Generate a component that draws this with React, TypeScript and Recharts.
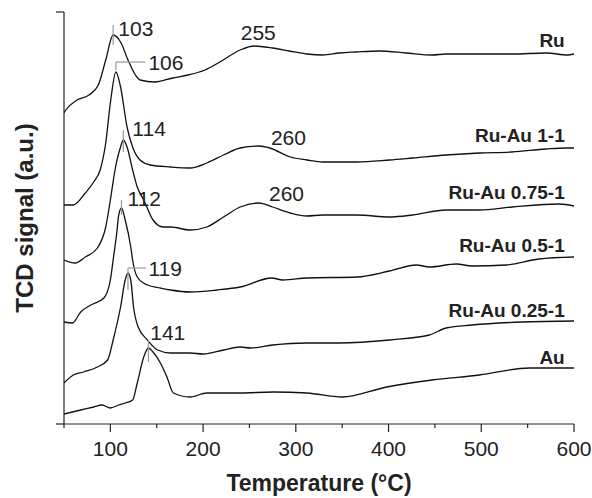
import { LineChart, Line, XAxis, YAxis, ReferenceLine, ReferenceDot } from 'recharts';

// [temperature °C, signal (offset, a.u.)]
const ru = [
  [50, 311], [52, 314], [64, 324], [77, 329], [87, 339], [95, 364], [103, 389], [111, 382],
  [119, 364], [127, 349], [132, 344], [148, 342], [167, 346], [184, 349], [202, 354], [218, 362],
  [240, 374], [255, 378], [275, 376], [293, 373], [312, 370], [329, 369], [347, 371], [365, 372],
  [390, 373], [419, 371], [447, 369], [462, 370], [498, 370], [533, 370], [570, 371], [593, 369], [600, 370],
];
const ruAu1 = [
  [50, 219], [60, 219], [73, 231], [82, 242], [89, 254], [95, 281], [100, 321], [106, 352],
  [111, 337], [118, 297], [124, 277], [132, 264], [143, 259], [165, 257], [186, 256], [204, 261],
  [222, 269], [240, 276], [260, 278], [272, 276], [294, 267], [312, 264], [329, 262], [366, 262],
  [401, 264], [426, 266], [462, 269], [498, 271], [533, 272], [570, 275], [591, 276], [600, 276],
];
const ruAu075 = [
  [50, 164], [62, 161], [73, 167], [86, 176], [95, 197], [100, 224], [105, 254], [111, 277],
  [114, 284], [118, 277], [124, 254], [129, 237], [136, 224], [146, 204], [157, 197], [165, 197],
  [186, 194], [204, 197], [222, 207], [240, 217], [260, 221], [275, 217], [294, 211], [312, 208],
  [329, 209], [366, 209], [401, 207], [426, 209], [462, 214], [498, 214], [533, 217], [584, 220], [600, 218],
];
const ruAu05 = [
  [50, 102], [59, 101], [68, 112], [79, 119], [93, 126], [100, 144], [103, 164], [107, 192],
  [109, 209], [112, 216], [116, 204], [122, 177], [124, 164], [129, 147], [140, 139], [154, 136],
  [165, 134], [186, 132], [215, 134], [240, 137], [274, 146], [286, 144], [312, 146], [366, 147],
  [401, 153], [430, 159], [444, 157], [473, 160], [490, 158], [527, 159], [562, 165], [600, 167],
];
const ruAu025 = [
  [50, 41], [60, 49], [71, 52], [86, 57], [97, 64], [103, 84], [111, 117], [116, 144], [119, 151],
  [122, 144], [125, 117], [130, 97], [140, 84], [151, 74], [165, 71], [186, 71], [200, 70],
  [222, 74], [240, 77], [251, 76], [275, 79], [312, 81], [347, 81], [401, 84], [444, 89],
  [462, 96], [490, 99], [544, 102], [600, 103],
];
const au = [
  [50, 10], [68, 14], [82, 17], [91, 19], [100, 16], [109, 19], [116, 21], [124, 24], [129, 41],
  [136, 67], [141, 76], [146, 72], [154, 61], [161, 47], [168, 31], [186, 27], [204, 31],
  [240, 31], [275, 32], [312, 31], [350, 27], [398, 37], [447, 44], [498, 49], [552, 56], [600, 56],
];

const seriesList = [ru, ruAu1, ruAu075, ruAu05, ruAu025, au];

// sample names: [text, temperature of right edge, signal]
const sampleNames: [string, number, number][] = [
  ['Ru', 590, 384], ['Ru-Au 1-1', 590, 289], ['Ru-Au 0.75-1', 590, 232],
  ['Ru-Au 0.5-1', 590, 179], ['Ru-Au 0.25-1', 590, 114], ['Au', 590, 67],
];

// peak labels: [text, temperature, signal]
const peakTexts: [string, number, number, string][] = [
  ['103', 108.6, 396, 'start'], ['106', 141, 362, 'start'], ['114', 123.7, 296, 'start'],
  ['112', 118.5, 226, 'start'], ['119', 141, 156, 'start'], ['141', 143, 92, 'start'],
  ['255', 259.5, 392, 'middle'], ['260', 292, 287, 'middle'], ['260', 290, 231, 'middle'],
];

// peak marker segments: [t1, v1, t2, v2]
const peakMarks = [
  [103, 399, 103, 379], [106, 362, 106, 354], [106, 362, 137.5, 362], [114, 294, 114, 272],
  [112, 224, 112, 209], [119, 156, 119, 134], [119, 156, 138.5, 156], [141, 84, 141, 62],
];

const xTicks = [50, 100, 150, 200, 250, 300, 350, 400, 450, 500, 550, 600];
const FONT = '"Liberation Sans", Arial, Helvetica, sans-serif';

const toPoints = (arr: number[][]) => arr.map(([t, v]) => ({ t, v }));

function TempTick({ x, y, payload }: any) {
  const major = payload.value % 100 === 0;
  return (
    <g>
      <line x1={x} y1={y} x2={x} y2={y + (major ? 8 : 4)} stroke="#222" strokeWidth={1.2} />
      {major && (
        <text x={x} y={y + 32} textAnchor="middle" fontSize={21} fontFamily={FONT} fill="#222">
          {payload.value}
        </text>
      )}
    </g>
  );
}

function EndTick({ x, y }: any) {
  return <line x1={x - 8} y1={y} x2={x} y2={y} stroke="#222" strokeWidth={1.2} />;
}

const textShape = (text: string, anchor: string, bold: boolean, size: number) => (p: any) => (
  <text
    x={p.cx}
    y={p.cy}
    textAnchor={anchor}
    dominantBaseline="central"
    fontSize={size}
    fontWeight={bold ? 700 : 400}
    fontFamily={FONT}
    fill="#222"
  >
    {text}
  </text>
);

export default function App() {
  return (
    <div style={{ position: 'absolute', left: 0, top: 0, width: 592, height: 498, background: '#fff' }}>
      <LineChart width={592} height={498} margin={{ top: 12, right: 18, bottom: 14, left: 54 }}>
        <XAxis
          xAxisId="b"
          dataKey="t"
          type="number"
          domain={[50, 600]}
          ticks={xTicks}
          allowDataOverflow
          height={60}
          tickSize={0}
          tickMargin={0}
          tickLine={false}
          axisLine={{ stroke: '#222', strokeWidth: 1.2 }}
          tick={<TempTick />}
          label={{
            content: ({ viewBox }: any) => (
              <text
                x={viewBox.x + viewBox.width / 2}
                y={viewBox.y + 67}
                textAnchor="middle"
                fontSize={23}
                fontWeight={700}
                fontFamily={FONT}
                fill="#222"
              >
                Temperature (°C)
              </text>
            ),
          }}
        />
        <XAxis xAxisId="t" orientation="top" type="number" domain={[50, 600]} height={0} tick={false} tickLine={false} axisLine={{ stroke: '#222', strokeWidth: 1.2 }} />
        <YAxis
          yAxisId="l"
          type="number"
          domain={[0, 412]}
          ticks={[0, 412]}
          width={10}
          tickSize={0}
          tickMargin={0}
          tickLine={false}
          tick={<EndTick />}
          axisLine={{ stroke: '#222', strokeWidth: 1.2 }}
        />
        <YAxis yAxisId="r" orientation="right" type="number" domain={[0, 412]} width={0} tick={false} tickLine={false} axisLine={{ stroke: '#222', strokeWidth: 1.2 }} />

        {seriesList.map((s, i) => (
          <Line
            key={i}
            xAxisId="b"
            yAxisId="l"
            data={toPoints(s)}
            dataKey="v"
            type="monotone"
            stroke="#111"
            strokeWidth={1.3}
            dot={false}
            isAnimationActive={false}
          />
        ))}

        {peakMarks.map(([t1, v1, t2, v2], i) => (
          <ReferenceLine
            key={'m' + i}
            xAxisId="b"
            yAxisId="l"
            segment={[{ x: t1, y: v1 }, { x: t2, y: v2 }]}
            stroke="#999"
            strokeWidth={1.2}
          />
        ))}
        {peakTexts.map(([text, t, v, anchor], i) => (
          <ReferenceDot key={'p' + i} xAxisId="b" yAxisId="l" x={t} y={v} r={0} shape={textShape(text, anchor, false, 21)} />
        ))}
        {sampleNames.map(([text, t, v], i) => (
          <ReferenceDot key={'n' + i} xAxisId="b" yAxisId="l" x={t} y={v} r={0} shape={textShape(text, 'end', true, 19)} />
        ))}
      </LineChart>
      <svg width={60} height={498} style={{ position: 'absolute', left: 0, top: 0 }}>
        <text
          x={33}
          y={218}
          transform="rotate(-90 33 218)"
          textAnchor="middle"
          fontSize={24}
          fontWeight={700}
          fontFamily={FONT}
          fill="#222"
        >
          TCD signal (a.u.)
        </text>
      </svg>
    </div>
  );
}
